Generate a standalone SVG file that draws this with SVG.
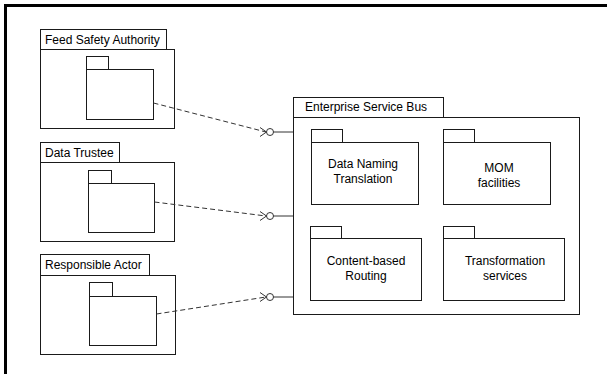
<svg xmlns="http://www.w3.org/2000/svg" width="607" height="374" viewBox="0 0 607 374">
  <defs>
    <style>
      .box { fill: #fff; stroke: #1a1a1a; stroke-width: 1; }
      .lbl { font-family: "Liberation Sans", Arial, sans-serif; font-size: 12px; fill: #000; }
      .mid { text-anchor: middle; }
      .dep { fill: none; stroke: #333; stroke-width: 1; stroke-dasharray: 5 3; }
      .req { fill: none; stroke: #333; stroke-width: 1; }
      .frame { fill: none; stroke: #000; stroke-width: 3; }
    </style>
  </defs>

  <rect width="607" height="374" fill="#fff"/>
  <!-- diagram frame -->
  <path class="frame" d="M5.5,374 V5.5 H607"/>

  <!-- actor packages -->
  <g id="feed-safety-authority">
    <rect class="box" x="40.5" y="29.5" width="126" height="20"/>
    <rect class="box" x="40.5" y="49.5" width="134" height="79"/>
    <text class="lbl" x="45" y="44">Feed Safety Authority</text>
    <rect class="box" x="86.5" y="56.5" width="22" height="13"/>
    <rect class="box" x="86.5" y="69.5" width="67" height="50"/>
  </g>

  <g id="data-trustee">
    <rect class="box" x="40.5" y="142.5" width="79" height="20"/>
    <rect class="box" x="40.5" y="162.5" width="134" height="79"/>
    <text class="lbl" x="45" y="156.5">Data Trustee</text>
    <rect class="box" x="88.5" y="170.5" width="23" height="13"/>
    <rect class="box" x="88.5" y="183.5" width="66" height="49"/>
  </g>

  <g id="responsible-actor">
    <rect class="box" x="40.5" y="254.5" width="109" height="21"/>
    <rect class="box" x="40.5" y="275.5" width="135" height="79"/>
    <text class="lbl" x="45" y="268.5">Responsible Actor</text>
    <rect class="box" x="89.5" y="282.5" width="23" height="14"/>
    <rect class="box" x="89.5" y="296.5" width="67" height="49"/>
  </g>

  <!-- enterprise service bus -->
  <g id="enterprise-service-bus">
    <rect class="box" x="293.5" y="97.5" width="150" height="20"/>
    <rect class="box" x="293.5" y="117.5" width="286" height="197"/>
    <text class="lbl" x="305" y="110.5">Enterprise Service Bus</text>
  </g>

  <g id="data-naming-translation">
    <rect class="box" x="311.5" y="129.5" width="31" height="13"/>
    <rect class="box" x="311.5" y="142.5" width="107" height="62"/>
    <text class="lbl mid" x="363" y="167.5">Data Naming</text>
    <text class="lbl mid" x="363" y="182.5">Translation</text>
  </g>

  <g id="mom-facilities">
    <rect class="box" x="443.5" y="129.5" width="31" height="13"/>
    <rect class="box" x="443.5" y="142.5" width="107" height="62"/>
    <text class="lbl mid" x="499" y="171.5">MOM</text>
    <text class="lbl mid" x="499" y="186.5">facilities</text>
  </g>

  <g id="content-based-routing">
    <rect class="box" x="310.5" y="226.5" width="31" height="12"/>
    <rect class="box" x="310.5" y="238.5" width="111" height="62"/>
    <text class="lbl mid" x="366" y="265">Content-based</text>
    <text class="lbl mid" x="366" y="280">Routing</text>
  </g>

  <g id="transformation-services">
    <rect class="box" x="443.5" y="226.5" width="31" height="12"/>
    <rect class="box" x="443.5" y="238.5" width="121" height="62"/>
    <text class="lbl mid" x="505" y="265">Transformation</text>
    <text class="lbl mid" x="505" y="280">services</text>
  </g>

  <!-- dependencies onto the bus interfaces -->
  <g id="connectors">
    <path class="dep" d="M153.5,103 L266,132"/>
    <path class="req" d="M260,127.5 L266.5,132 L260,136.5"/>
    <circle class="req" cx="270" cy="132" r="3.5"/>
    <path class="req" d="M273.5,132 H293"/>

    <path class="dep" d="M154.5,202 L266,216"/>
    <path class="req" d="M260,211.5 L266.5,216 L260,220.5"/>
    <circle class="req" cx="270" cy="216" r="3.5"/>
    <path class="req" d="M273.5,216 H293"/>

    <path class="dep" d="M156.5,314 L266,297"/>
    <path class="req" d="M260,292.5 L266.5,297 L260,301.5"/>
    <circle class="req" cx="270" cy="297" r="3.5"/>
    <path class="req" d="M273.5,297 H293"/>
  </g>
</svg>
